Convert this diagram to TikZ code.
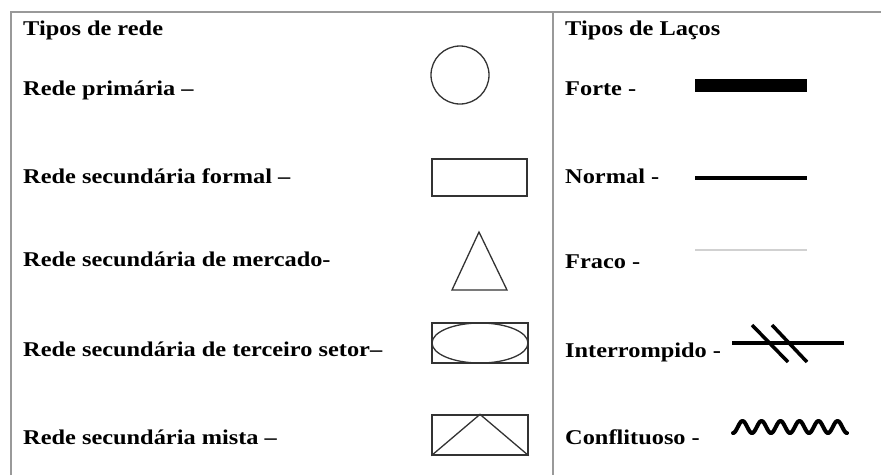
\documentclass[tikz,border=0pt]{standalone}
\usepackage{fontspec}
\setmainfont{Liberation Serif}[FakeStretch=1.16]
\usetikzlibrary{shapes.geometric}
\begin{document}
\begin{tikzpicture}[x=1pt,y=-1pt,
  lbl/.style={anchor=base west, inner sep=0pt, font=\bfseries\fontsize{21}{25}\selectfont},
  framel/.style={draw=black!40, line width=2pt},
  shp/.style={draw=black!80, line width=1.3pt, inner sep=0pt},
  tie/.style={draw=black, line width=3.5pt}]
\useasboundingbox (0,0) rectangle (881,475);
% frame
\draw[framel] (11,475) -- (11,12) -- (881,12);
\draw[framel] (553,12) -- (553,475);
% left column
\node[lbl] (t1) at (23,35) {Tipos de rede};
\node[lbl] (l1) at (23,95) {Rede primária –};
\node[lbl] (l2) at (23,183) {Rede secundária formal –};
\node[lbl] (l3) at (23,266) {Rede secundária de mercado-};
\node[lbl] (l4) at (23,356) {Rede secundária de terceiro setor–};
\node[lbl] (l5) at (23,444) {Rede secundária mista –};
% shapes
\node[shp, circle, minimum size=58pt] (s1) at (460,75) {};
\node[shp, rectangle, minimum width=95pt, minimum height=37pt] (s2) at (479.5,177.5) {};
\coordinate (ta) at (479,232);
\coordinate (tb) at (452,290);
\coordinate (tc) at (507,290);
\draw[shp] (tb) -- (ta) -- (tc) -- cycle;
\node[shp, rectangle, minimum width=96pt, minimum height=40pt] (s4) at (480,343) {};
\node[shp, ellipse, minimum width=96pt, minimum height=40pt] (s4e) at (480,343) {};
\node[shp, rectangle, minimum width=96pt, minimum height=40pt] (s5) at (480,435) {};
\draw[shp] (s5.south west) -- (s5.north) -- (s5.south east);
% right column
\node[lbl] (t2) at (565,35) {Tipos de Laços};
\node[lbl] (r1) at (565,95) {Forte -};
\node[lbl] (r2) at (565,183) {Normal -};
\node[lbl] (r3) at (565,268) {Fraco -};
\node[lbl] (r4) at (565,357) {Interrompido -};
\node[lbl] (r5) at (565,444) {Conflituoso -};
% ties
\draw[draw=black, line width=13pt] (695,85) -- (807,85);
\draw[tie] (695,178) -- (807,178);
\draw[draw=black!18, line width=2.5pt] (695,250) -- (807,250);
\draw[tie] (732,343) -- (844,343);
\draw[tie] (752,325) -- (788,362);
\draw[tie] (772,325) -- (807,362);
\draw[tie, line width=4pt, line join=round, line cap=round] plot[domain=0:114, samples=160] ({\x+733}, {427+6*cos(18.947*\x)});
\end{tikzpicture}
\end{document}
